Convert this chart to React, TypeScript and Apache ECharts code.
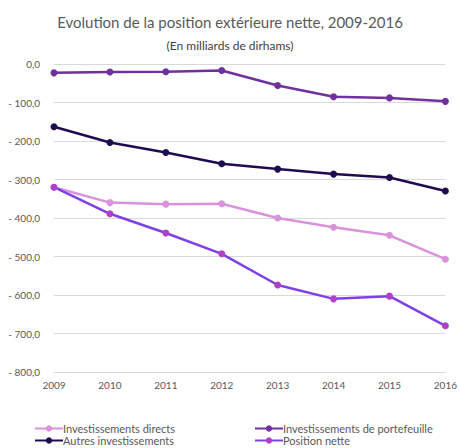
import React, { useEffect, useRef } from "react";
import * as echarts from "echarts";

const years = ["2009", "2010", "2011", "2012", "2013", "2014", "2015", "2016"];
const investissementsDirects = [-320, -360, -364, -363, -400, -424, -445, -507];
const investissementsPortefeuille = [-23, -21, -20, -17, -56, -85, -88, -97];
const autresInvestissements = [-163, -204, -230, -259, -273, -286, -295, -330];
const positionNette = [-320, -389, -439, -493, -574, -610, -603, -680];

const FONT = "Lato";
const GRAY = "#595959";

export default function App() {
  const ref = useRef<HTMLDivElement>(null);
  useEffect(() => {
    const chart = echarts.init(ref.current!, null, { renderer: "svg" });
    const mk = (name: string, data: number[], color: string, markerColor?: string) => ({
      name,
      type: "line",
      data,
      symbol: "circle",
      symbolSize: 7,
      lineStyle: { width: 2.5, color },
      itemStyle: { color: markerColor || color },
      color: markerColor || color,
    });
    const leg = (name: string, left: number, top: number) => ({
      data: [name],
      left,
      top,
      padding: 0,
      itemWidth: 28,
      itemHeight: 8,
      itemGap: 0,
      textStyle: { fontSize: 11, color: GRAY, fontFamily: FONT, padding: [0, 0, 0, -5] },
    });
    chart.setOption({
      animation: false,
      textStyle: { fontFamily: FONT },
      title: [
        {
          text: "Evolution de la position extérieure nette, 2009-2016",
          left: "center",
          top: 9,
          textStyle: { fontFamily: FONT, fontSize: 15, fontWeight: "normal", color: GRAY },
        },
        {
          text: "(En milliards de dirhams)",
          left: "center",
          top: 34,
          textStyle: { fontFamily: FONT, fontSize: 12, fontWeight: "normal", color: "#404040" },
        },
      ],
      grid: { left: 54, right: 14, top: 64, bottom: 76, containLabel: false },
      xAxis: {
        type: "category",
        data: years,
        boundaryGap: false,
        axisLine: { show: false },
        axisTick: { show: false },
        axisLabel: { color: GRAY, fontSize: 10, fontFamily: FONT, margin: 8 },
      },
      yAxis: {
        type: "value",
        min: -800,
        max: 0,
        interval: 100,
        axisLabel: {
          color: GRAY,
          fontSize: 10,
          fontFamily: FONT,
          margin: 14,
          formatter: (v: number) => (v === 0 ? "0,0" : "- " + Math.abs(v) + ",0"),
        },
        splitLine: { lineStyle: { color: "#d9d9d9", width: 1 } },
      },
      legend: [
        leg("Investissements directs", 34, 423),
        leg("Autres investissements", 34, 435),
        leg("Investissements de portefeuille", 254, 423),
        leg("Position nette", 254, 435),
      ],
      series: [
        mk("Investissements directs", investissementsDirects, "#DA92DD"),
        mk("Investissements de portefeuille", investissementsPortefeuille, "#7030A0"),
        mk("Autres investissements", autresInvestissements, "#200B50"),
        {
          ...mk("Position nette", positionNette, "#8040E8", "#B040C8"),
          lineStyle: { width: 2.5, color: "#8040E8" },
        },
      ],
    });
    return () => chart.dispose();
  }, []);
  return (
    <div
      ref={ref}
      style={{ position: "fixed", left: 0, top: 0, width: 460, height: 448, background: "#fff" }}
    />
  );
}
